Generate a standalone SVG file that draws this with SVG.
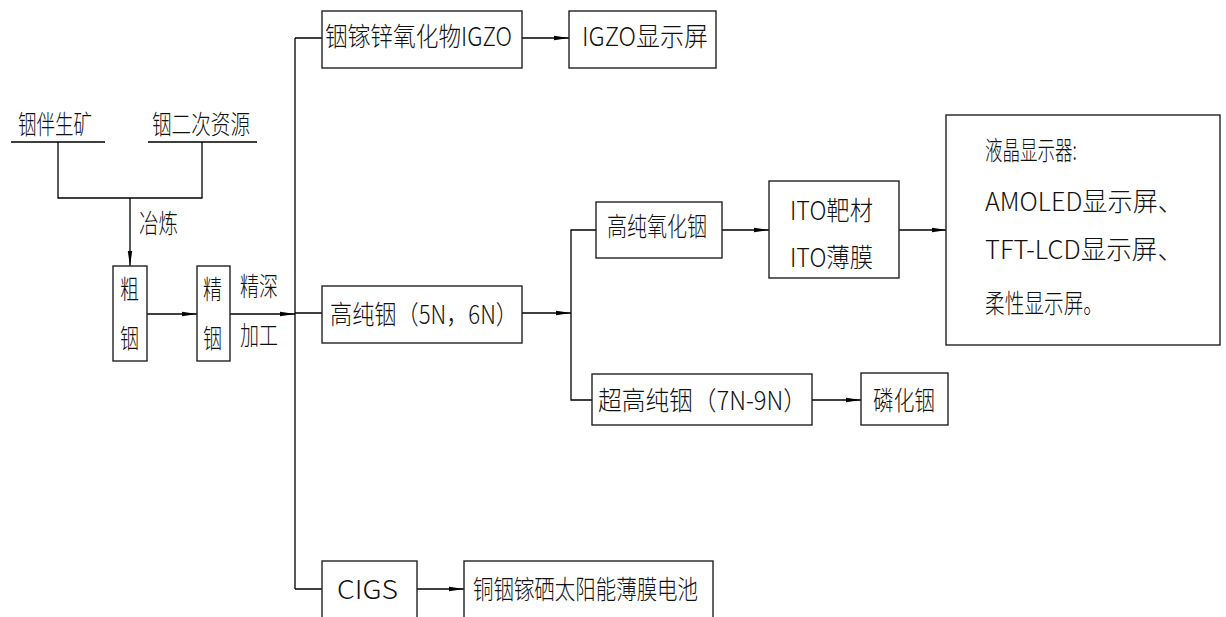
<svg xmlns="http://www.w3.org/2000/svg" width="1226" height="617" viewBox="0 0 1226 617">
<style>
  .ln{fill:none;stroke:#000;stroke-width:1.3}
  .bx{fill:#fff;stroke:#222;stroke-width:1.4}
  .t{font-family:"Noto Sans CJK SC","Liberation Sans",sans-serif;font-size:26px;font-weight:300;fill:#111}
</style>
<defs>
  <marker id="ar" markerUnits="userSpaceOnUse" markerWidth="15" markerHeight="6" refX="15" refY="3" orient="auto">
    <path d="M0,0.8 L15,3 L0,5.2 Z" fill="#000"/>
  </marker>
</defs>
<rect width="1226" height="617" fill="#fff"/>
<g id="connectors">
  <path class="ln" d="M11,142 H105 M148,142 H257"/>
  <path class="ln" d="M58,142 V198 H202 V142"/>
  <path class="ln" d="M130,198 V266" marker-end="url(#ar)"/>
  <path class="ln" d="M147,314 H197" marker-end="url(#ar)"/>
  <path class="ln" d="M230,314 H295" marker-end="url(#ar)"/>
  <path class="ln" d="M295,38 V589"/>
  <path class="ln" d="M295,38 H322 M295,313 H322 M295,589 H322"/>
  <path class="ln" d="M522,38 H569" marker-end="url(#ar)"/>
  <path class="ln" d="M522,313 H571" marker-end="url(#ar)"/>
  <path class="ln" d="M596,230 H571 V400 H592"/>
  <path class="ln" d="M722,230 H769" marker-end="url(#ar)"/>
  <path class="ln" d="M899,230 H947" marker-end="url(#ar)"/>
  <path class="ln" d="M812,400 H861" marker-end="url(#ar)"/>
  <path class="ln" d="M417,589 H464" marker-end="url(#ar)"/>
</g>
<g id="src1"><text class="t" x="18" y="134" font-size="28" textLength="74" lengthAdjust="spacingAndGlyphs">铟伴生矿</text></g>
<g id="src2"><text class="t" x="152" y="134" font-size="28" textLength="98" lengthAdjust="spacingAndGlyphs">铟二次资源</text></g>
<g id="smelt"><text class="t" x="139" y="233" textLength="39" lengthAdjust="spacingAndGlyphs">冶炼</text></g>
<g id="crude">
  <rect class="bx" x="113" y="266" width="34" height="95"/>
  <text class="t" x="120" y="299" textLength="19" lengthAdjust="spacingAndGlyphs">粗</text>
  <text class="t" x="120" y="348" textLength="19" lengthAdjust="spacingAndGlyphs">铟</text>
</g>
<g id="refined">
  <rect class="bx" x="197" y="266" width="33" height="95"/>
  <text class="t" x="203" y="299" textLength="19" lengthAdjust="spacingAndGlyphs">精</text>
  <text class="t" x="203" y="348" textLength="19" lengthAdjust="spacingAndGlyphs">铟</text>
</g>
<g id="process">
  <text class="t" x="240" y="296" textLength="38" lengthAdjust="spacingAndGlyphs">精深</text>
  <text class="t" x="240" y="345" textLength="38" lengthAdjust="spacingAndGlyphs">加工</text>
</g>
<g id="igzo">
  <rect class="bx" x="322" y="11" width="200" height="57"/>
  <text class="t" x="325" y="46" font-size="25" textLength="187" lengthAdjust="spacingAndGlyphs">铟镓锌氧化物IGZO</text>
</g>
<g id="igzo-screen">
  <rect class="bx" x="569" y="11" width="147" height="57"/>
  <text class="t" x="582" y="46" font-size="25" textLength="126" lengthAdjust="spacingAndGlyphs">IGZO显示屏</text>
</g>
<g id="hp-in">
  <rect class="bx" x="322" y="286" width="200" height="57"/>
  <text class="t" x="330" y="324" font-size="25" textLength="188" lengthAdjust="spacingAndGlyphs">高纯铟（5N，6N）</text>
</g>
<g id="hp-oxide">
  <rect class="bx" x="596" y="202" width="126" height="56"/>
  <text class="t" x="607" y="236" font-size="25" textLength="100" lengthAdjust="spacingAndGlyphs">高纯氧化铟</text>
</g>
<g id="ito">
  <rect class="bx" x="769" y="181" width="130" height="97"/>
  <text class="t" x="790" y="220" font-size="25" textLength="83" lengthAdjust="spacingAndGlyphs">ITO靶材</text>
  <text class="t" x="790" y="267" font-size="25" textLength="83" lengthAdjust="spacingAndGlyphs">ITO薄膜</text>
</g>
<g id="lcd">
  <rect class="bx" x="946" y="115" width="274" height="230"/>
  <text class="t" x="985" y="160" textLength="92" lengthAdjust="spacingAndGlyphs">液晶显示器:</text>
  <text class="t" x="985" y="211" textLength="198" lengthAdjust="spacingAndGlyphs">AMOLED显示屏、</text>
  <text class="t" x="985" y="259" textLength="198" lengthAdjust="spacingAndGlyphs">TFT-LCD显示屏、</text>
  <text class="t" x="985" y="313" textLength="118" lengthAdjust="spacingAndGlyphs">柔性显示屏。</text>
</g>
<g id="uhp-in">
  <rect class="bx" x="592" y="374" width="220" height="51"/>
  <text class="t" x="598" y="410" font-size="25" textLength="209" lengthAdjust="spacingAndGlyphs">超高纯铟（7N-9N）</text>
</g>
<g id="inp">
  <rect class="bx" x="861" y="373" width="87" height="52"/>
  <text class="t" x="873" y="410" font-size="25" textLength="62" lengthAdjust="spacingAndGlyphs">磷化铟</text>
</g>
<g id="cigs">
  <rect class="bx" x="322" y="561" width="95" height="60"/>
  <text class="t" x="337" y="599" font-size="27" textLength="61" lengthAdjust="spacingAndGlyphs">CIGS</text>
</g>
<g id="solar">
  <rect class="bx" x="464" y="561" width="249" height="60"/>
  <text class="t" x="473" y="599" font-size="25" textLength="225" lengthAdjust="spacingAndGlyphs">铜铟镓硒太阳能薄膜电池</text>
</g>
</svg>
